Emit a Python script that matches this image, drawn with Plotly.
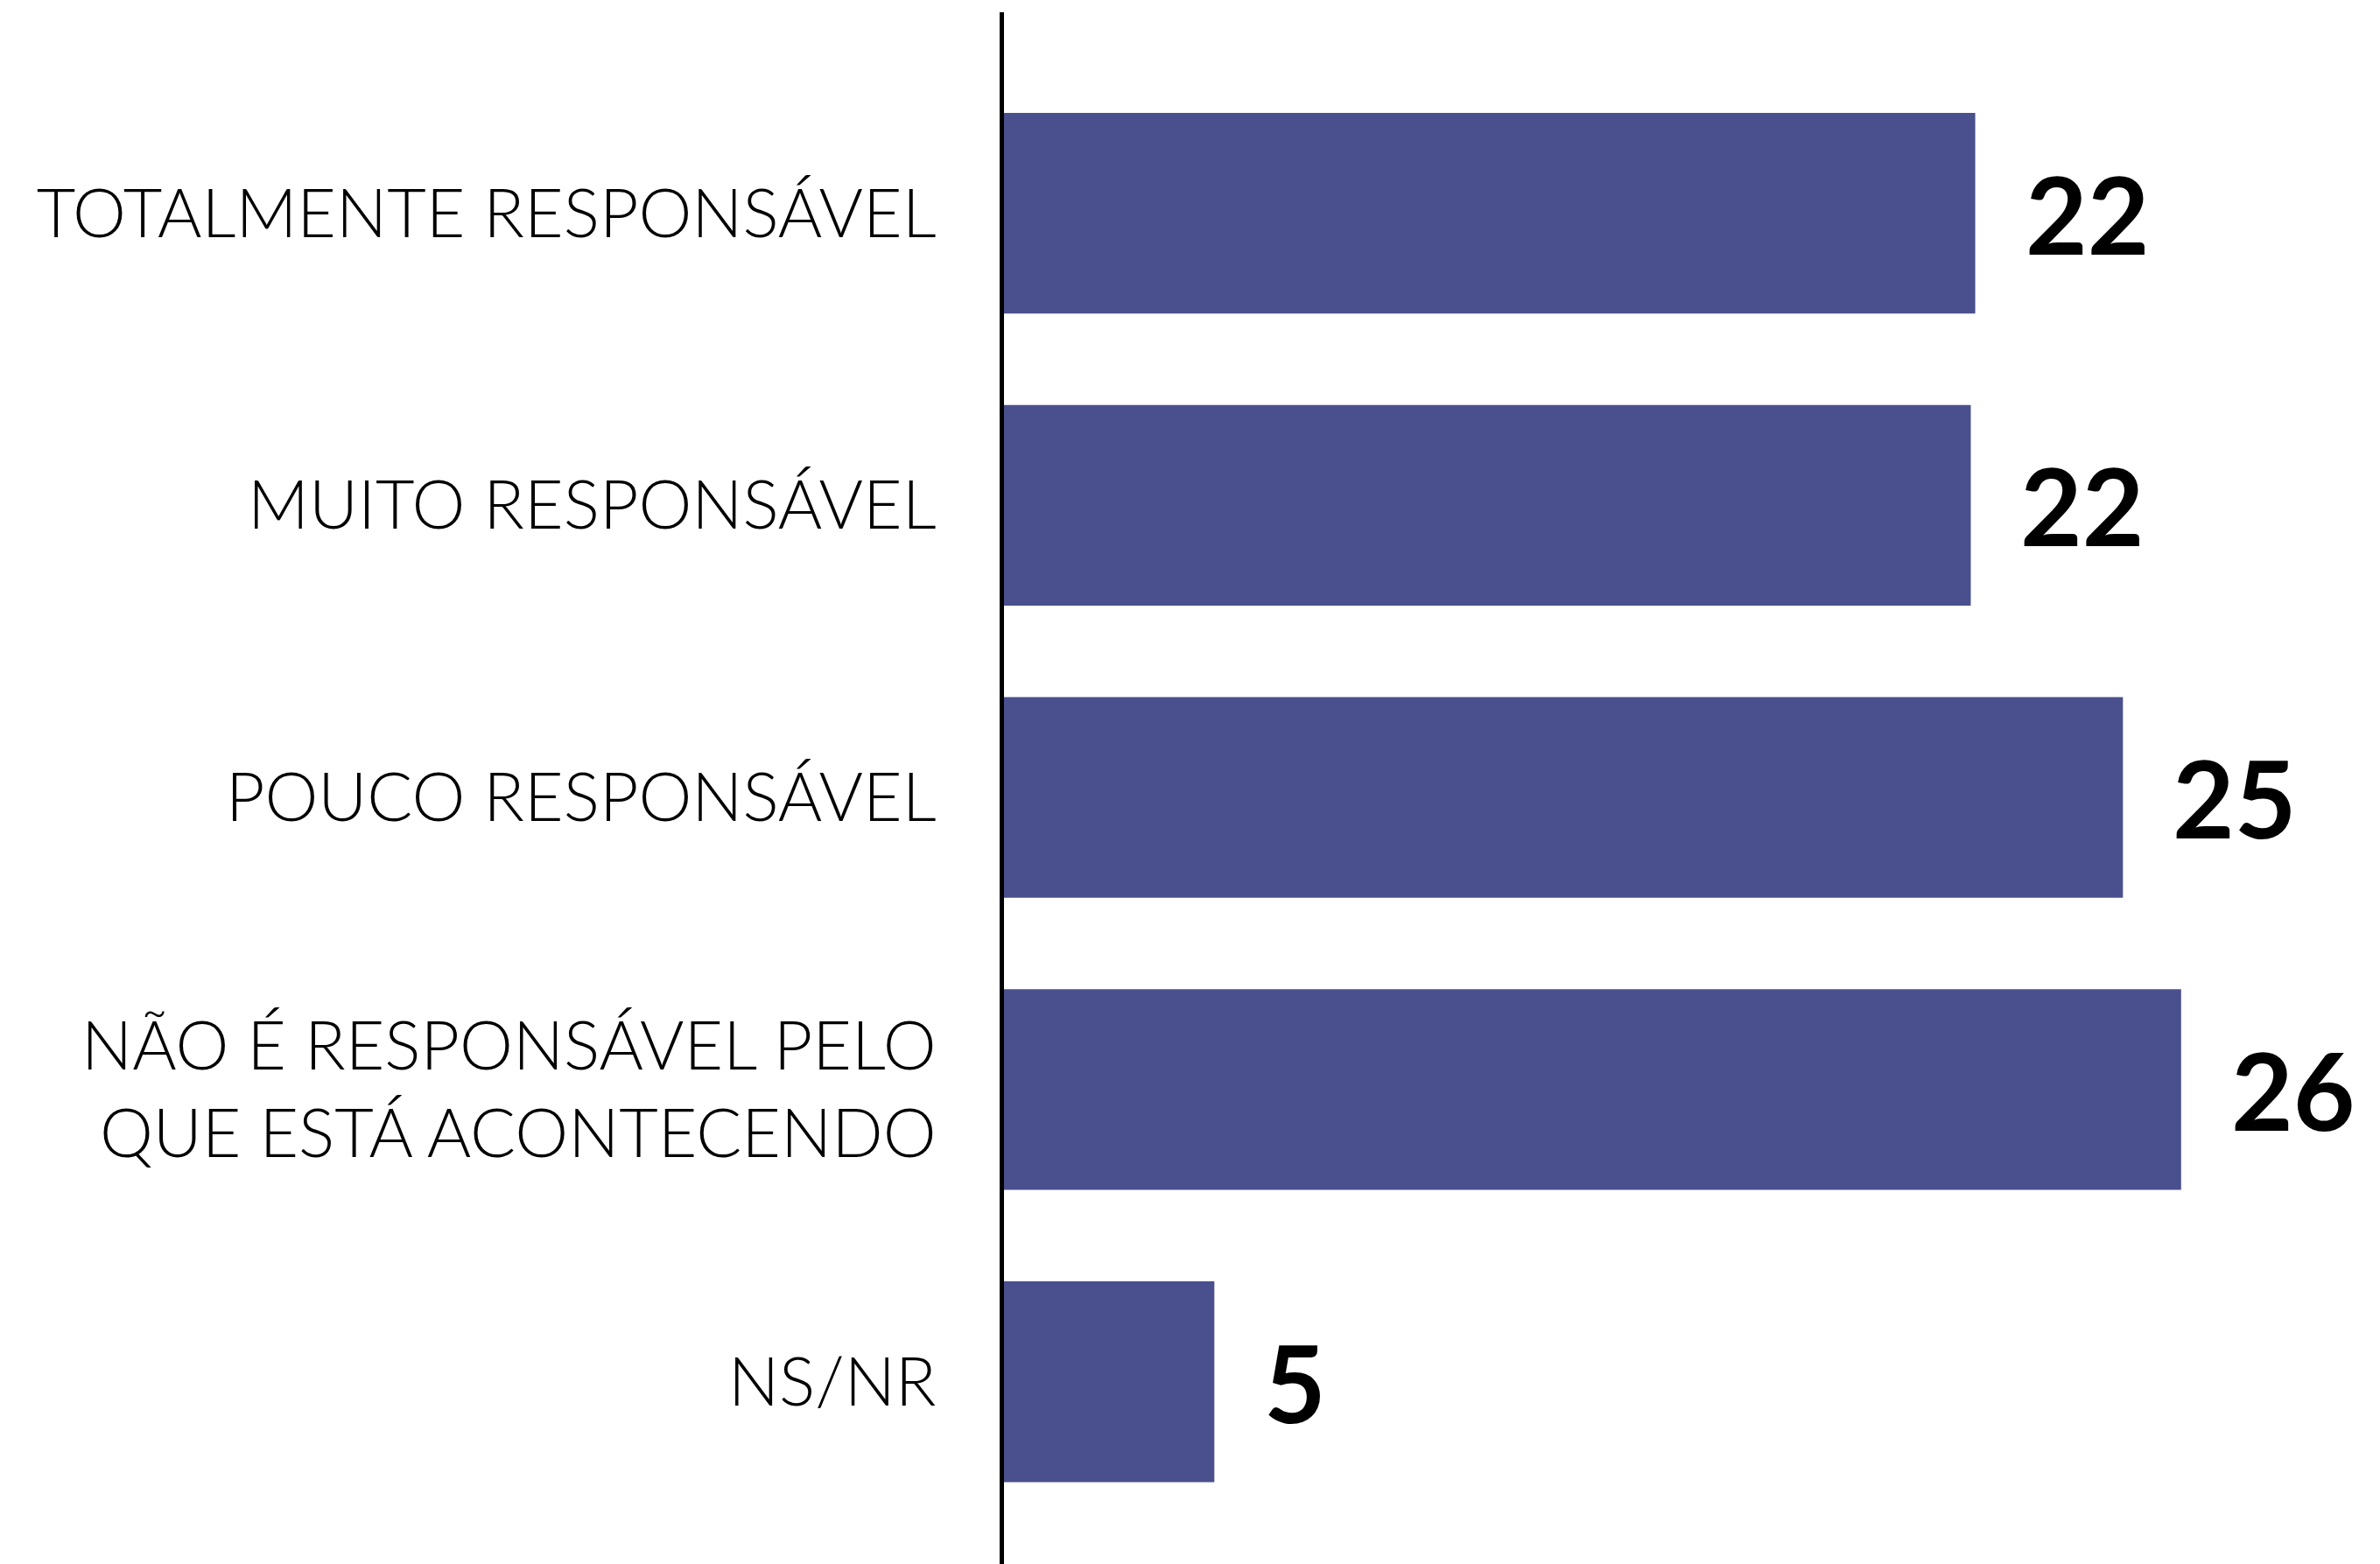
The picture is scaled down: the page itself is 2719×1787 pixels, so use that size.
import plotly.graph_objects as go

categories = [
    "TOTALMENTE RESPONSÁVEL",
    "MUITO RESPONSÁVEL",
    "POUCO RESPONSÁVEL",
    "NÃO É RESPONSÁVEL PELO<br>QUE ESTÁ ACONTECENDO",
    "NS/NR",
]
values = [21.7, 21.6, 25.0, 26.3, 4.7]
value_labels = ["22", "22", "25", "26", "5"]

BAR_COLOR = "#4A508D"

fig = go.Figure()
fig.add_trace(go.Bar(
    x=values,
    y=categories,
    orientation="h",
    marker=dict(color=BAR_COLOR, line=dict(width=0)),
    hoverinfo="skip",
))

for cat, v, lab in zip(categories, values, value_labels):
    fig.add_annotation(
        x=v, y=cat, text=lab, showarrow=False,
        xanchor="left", yanchor="middle", xshift=55,
        font=dict(family="Lato", size=122, color="black", weight=700),
    )

fig.update_layout(
    width=2719, height=1787,
    margin=dict(l=1139, r=0, t=6, b=8),
    paper_bgcolor="white", plot_bgcolor="white",
    bargap=0.313,
    showlegend=False,
    xaxis=dict(range=[0, 30.9], visible=False, showgrid=False, zeroline=False),
    yaxis=dict(
        range=[4.624, -0.688],
        showgrid=False, zeroline=False,
        showline=True, linecolor="black", linewidth=5,
        ticks="", ticklabelstandoff=57,
        tickfont=dict(family="Lato", size=77, color="black", weight=300),
    ),
)

fig.write_html("out.html")
